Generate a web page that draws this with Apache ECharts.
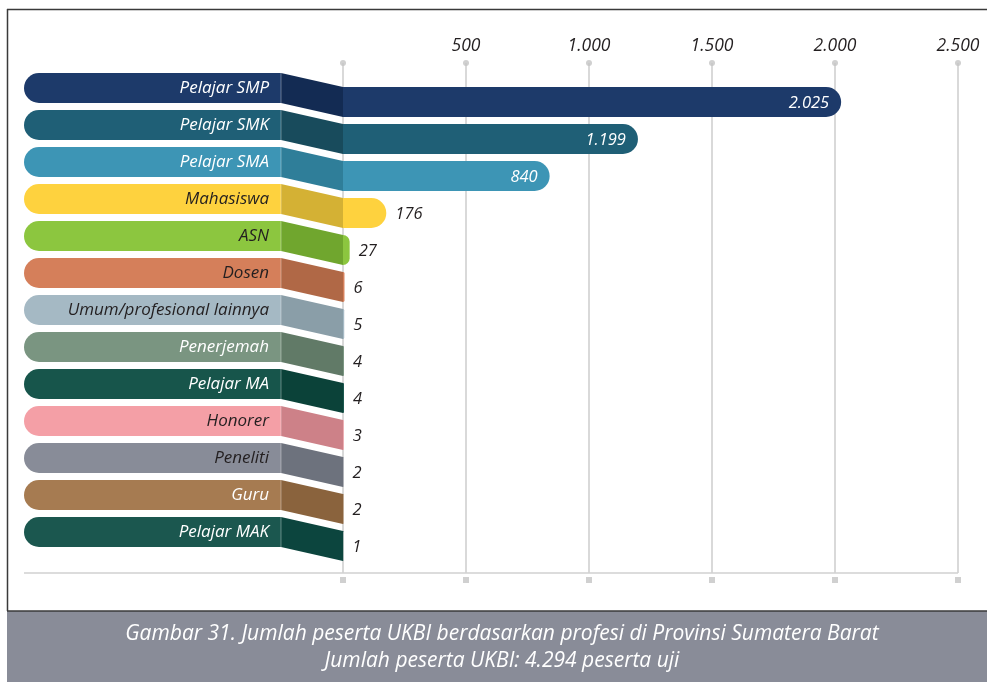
<!DOCTYPE html>
<html><head><meta charset="utf-8">
<script src="https://cdn.jsdelivr.net/npm/echarts@6/dist/echarts.min.js"></script>
<style>html,body{margin:0;padding:0;background:#fff}#c{width:987px;height:682px}</style>
</head><body><div id="c"></div>
<script>
const categories = ["Pelajar SMP","Pelajar SMK","Pelajar SMA","Mahasiswa","ASN","Dosen","Umum/profesional lainnya","Penerjemah","Pelajar MA","Honorer","Peneliti","Guru","Pelajar MAK"];
const values = [2025,1199,840,176,27,6,5,4,4,3,2,2,1];
const pillColors = ["#1d3a6a","#1f5f76","#3d95b5","#fed23e","#8cc63f","#d57f5a","#a5b9c4","#7a9581","#17554b","#f49fa6","#888c98","#a67b51","#1b574f"];
const joinColors = ["#132b53","#184b5c","#2f7e99","#d4b134","#70a62e","#b06846","#8a9ea8","#617a67","#0b4239","#cd8188","#6d727d","#8a633d","#0c453e"];
const textColors = ["#fff","#fff","#fff","#231f20","#231f20","#231f20","#231f20","#fff","#fff","#231f20","#231f20","#fff","#fff"];
const tickValues = [0,500,1000,1500,2000,2500];
const captionLines = ["Gambar 31. Jumlah peserta UKBI berdasarkan profesi di Provinsi Sumatera Barat","Jumlah peserta UKBI: 4.294 peserta uji"];

const FONT = '"Open Sans"';
function fmt(v){ return String(v).replace(/\B(?=(\d{3})+(?!\d))/g,'.'); }

const chart = echarts.init(document.getElementById('c'), null, {renderer:'canvas'});
const option = {
  animation:false,
  backgroundColor:'#fff',
  grid:[
    {left:343, right:29, top:63, bottom:109},
    {left:343, right:29, top:83.5, height:481}
  ],
  xAxis:[
    {gridIndex:0, type:'value', min:0, max:2500, interval:500, position:'top',
     axisLine:{show:false}, axisTick:{show:false},
     splitLine:{show:true, lineStyle:{color:'#cdcdcd', width:1.5}},
     axisLabel:{margin:8, color:'#231f20', fontSize:17.5, fontStyle:'italic', fontFamily:'Open Sans',
       formatter:v=> v===0 ? '' : fmt(v)}},
    {gridIndex:1, type:'value', min:0, max:2500, show:false}
  ],
  yAxis:[
    {gridIndex:0, type:'value', min:0, max:1, show:false},
    {gridIndex:1, type:'category', data:categories, inverse:true, show:false}
  ],
  graphic:[
    {type:'line', shape:{x1:24,y1:573,x2:958,y2:573}, style:{stroke:'#d0d0d0', lineWidth:1.5}, z:1},
    {type:'rect', shape:{x:7,y:611,width:980,height:71}, style:{fill:'#898c98'}, z:1},
    {type:'line', shape:{x1:7,y1:611,x2:987,y2:611}, style:{stroke:'#3a3a3a', lineWidth:1.5}, z:2},
    {type:'line', shape:{x1:7,y1:9.5,x2:987,y2:9.5}, style:{stroke:'#3a3a3a', lineWidth:1.5}, z:2},
    {type:'line', shape:{x1:7.5,y1:9,x2:7.5,y2:611}, style:{stroke:'#3a3a3a', lineWidth:1.5}, z:2},
    {type:'text', x:502, y:634, style:{text:captionLines[0], fill:'#fff', font:'italic 21px '+FONT, align:'center', verticalAlign:'middle'}, z:3},
    {type:'text', x:502, y:661, style:{text:captionLines[1], fill:'#fff', font:'italic 21px '+FONT, align:'center', verticalAlign:'middle'}, z:3}
  ],
  series:[
    {type:'scatter', xAxisIndex:0, yAxisIndex:0, symbol:'circle', symbolSize:6,
     itemStyle:{color:'#c4c4c4'}, data:tickValues.map(v=>[v,1]), silent:true, clip:false, z:3},
    {type:'scatter', xAxisIndex:0, yAxisIndex:0, symbol:'rect', symbolSize:6, symbolOffset:[0,7],
     itemStyle:{color:'#c4c4c4'}, data:tickValues.map(v=>[v,0]), silent:true, clip:false, z:3},
    {type:'custom', xAxisIndex:1, yAxisIndex:1, clip:false, z:5,
     encode:{x:0, y:1},
     data: values.map((v,i)=>[v,i]),
     renderItem:function(params, api){
       const idx = params.dataIndex;
       const val = api.value(0);
       const start = api.coord([0, idx]);
       const end = api.coord([val, idx]);
       const cy = start[1];
       const x0 = start[0];
       const w = end[0]-x0;
       const r = Math.min(15, w);
       const inside = w > 100;
       return {type:'group', children:[
         {type:'rect', shape:{x:24, y:cy-29, width:257, height:30, r:[15,0,0,15]}, style:{fill:pillColors[idx]}},
         {type:'polygon', shape:{points:[[281,cy-29],[x0,cy-15],[x0,cy+15],[281,cy+1]]}, style:{fill:joinColors[idx]}},
         {type:'line', shape:{x1:281,y1:cy-29,x2:281,y2:cy+1}, style:{stroke:'rgba(255,255,255,0.35)', lineWidth:1}},
         {type:'text', x:269, y:cy-14, style:{text:categories[idx], fill:textColors[idx], font:'italic 17px '+FONT, align:'right', verticalAlign:'middle'}},
         {type:'rect', shape:{x:x0, y:cy-15, width:w, height:30, r:[0,r,r,0]}, style:{fill:pillColors[idx]}},
         {type:'text', x: inside ? end[0]-12 : end[0]+9, y:cy+1,
          style:{text:fmt(val), fill: inside ? '#fff' : '#231f20', font:'italic 16.5px '+FONT, align: inside ? 'right':'left', verticalAlign:'middle'}}
       ]};
     }}
  ]
};
chart.setOption(option);
</script>
</body></html>
